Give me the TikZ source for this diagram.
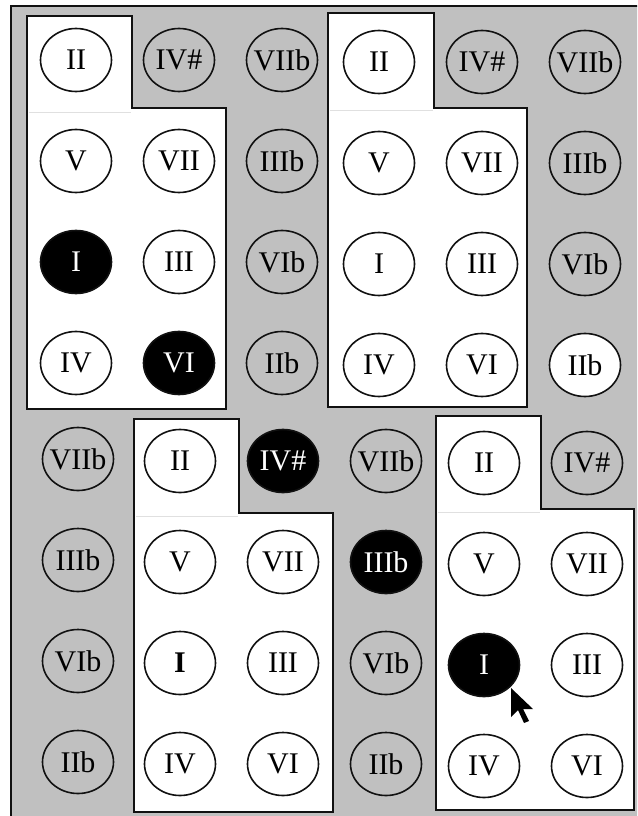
\documentclass[tikz,border=0pt]{standalone}
\usepackage{fontspec}
\setmainfont{Liberation Serif}
\usepackage{tikz}
\usetikzlibrary{
  shapes.geometric,
  positioning
}
\definecolor{kbGray}{HTML}{C0C0C0}
\definecolor{kbLine}{HTML}{111111}
\tikzset{
  keynode/.style={
    draw=kbLine, ellipse, line width=1.6pt, minimum width=71pt, minimum height=63pt,
    inner sep=0pt, font=\fontsize{30}{30}\selectfont
  },
  keyin/.style={keynode, fill=white},
  keyout/.style={keynode},
  keyon/.style={keynode, fill=black, text=white},
  panel/.style={draw=kbLine, line width=2.4pt, fill=white, line join=miter},
  seam/.style={black!12, line width=0.8pt},
  outerframe/.style={draw=kbLine, line width=2pt, fill=kbGray},
  pointer/.style={fill=black}
}
\begin{document}
\begin{tikzpicture}[x=1pt, y=-1pt]
  \useasboundingbox (0,0) rectangle (637,816);
  % frame
  \begin{scope}
    \clip (0,0) rectangle (637,816);
    \draw[outerframe] (11,6) rectangle (660,840);
  \end{scope}
  % top left
  \begin{scope}[shift={(76,60)}]
    \draw[panel] (-49,-44) -- (56,-44) -- (56,48) -- (150,48) -- (150,349) -- (-49,349) -- cycle;
    \draw[seam] (-47,52) -- (55,52);
    \foreach \t/\c/\r/\s in {II/0/0/keyin, V/0/1/keyin, I/0/2/keyon, IV/0/3/keyin,
      IV\#/1/0/keyout, VII/1/1/keyin, III/1/2/keyin, VI/1/3/keyon,
      VIIb/2/0/keyout, IIIb/2/1/keyout, VIb/2/2/keyout, IIb/2/3/keyout}
      \node[\s] (tl-\c\r) at (\c*103,\r*101) {\makebox[0pt]{\t}};
  \end{scope}
  % top right
  \begin{scope}[shift={(379,62)}]
    \draw[panel] (-51,-49) -- (55,-49) -- (55,46) -- (148,46) -- (148,345) -- (-51,345) -- cycle;
    \draw[seam] (-49,48) -- (54,48);
    \foreach \t/\c/\r/\s in {II/0/0/keyin, V/0/1/keyin, I/0/2/keyin, IV/0/3/keyin,
      IV\#/1/0/keyout, VII/1/1/keyin, III/1/2/keyin, VI/1/3/keyin,
      VIIb/2/0/keyout, IIIb/2/1/keyout, VIb/2/2/keyout, IIb/2/3/keyin}
      \node[\s] (tr-\c\r) at (\c*103,\r*101) {\makebox[0pt]{\t}};
  \end{scope}
  % bottom, left column
  \begin{scope}[shift={(78,459)}]
    \foreach \t/\r in {VIIb/0, IIIb/1, VIb/2, IIb/3}
      \node[keyout] (lc-\r) at (0,\r*101) {\makebox[0pt]{\t}};
  \end{scope}
  % bottom left
  \begin{scope}[shift={(180,461)}]
    \draw[panel] (-46,-42) -- (59,-42) -- (59,52) -- (153,52) -- (153,351) -- (-46,351) -- cycle;
    \draw[seam] (-44,55) -- (58,55);
    \foreach \t/\c/\r/\s in {II/0/0/keyin, V/0/1/keyin, \textbf{I}/0/2/keyin, IV/0/3/keyin,
      IV\#/1/0/keyon, VII/1/1/keyin, III/1/2/keyin, VI/1/3/keyin,
      VIIb/2/0/keyout, IIIb/2/1/keyon, VIb/2/2/keyout, IIb/2/3/keyout}
      \node[\s] (bl-\c\r) at (\c*103,\r*101) {\makebox[0pt]{\t}};
  \end{scope}
  % bottom right
  \begin{scope}[shift={(484,463)}]
    \draw[panel] (-48,-47) -- (57,-47) -- (57,46) -- (150,46) -- (150,347) -- (-48,347) -- cycle;
    \draw[seam] (-46,49) -- (56,49);
    \foreach \t/\c/\r/\s in {II/0/0/keyin, V/0/1/keyin, I/0/2/keyon, IV/0/3/keyin,
      IV\#/1/0/keyout, VII/1/1/keyin, III/1/2/keyin, VI/1/3/keyin}
      \node[\s] (br-\c\r) at (\c*103,\r*101) {\makebox[0pt]{\t}};
  \end{scope}
  % mouse pointer
  \fill[pointer] (511,688) -- ++(0,29) -- ++(7,-7) -- ++(6,13) -- ++(5,-2) -- ++(-6,-12) -- ++(10,0) -- cycle;
\end{tikzpicture}
\end{document}
